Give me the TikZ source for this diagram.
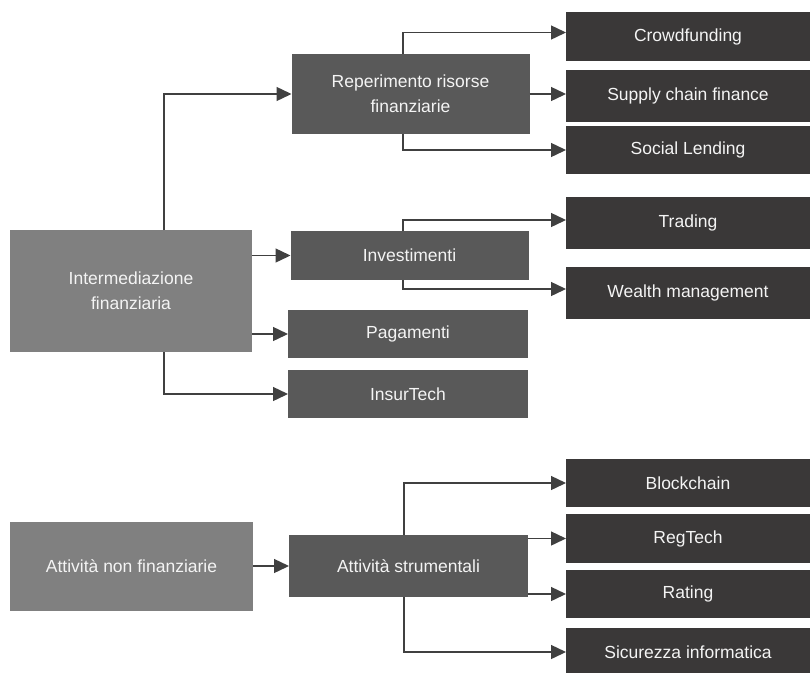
\documentclass[tikz,border=0pt]{standalone}
\usepackage{fontspec}
\setmainfont{Liberation Sans}
\usetikzlibrary{positioning,arrows.meta}
\definecolor{boxlight}{HTML}{808080}
\definecolor{boxmid}{HTML}{595959}
\definecolor{boxdark}{HTML}{3A3838}
\definecolor{linegray}{HTML}{404040}
\definecolor{textwhite}{HTML}{F4F4F4}

\begin{document}
\begin{tikzpicture}[x=1pt, y=-1pt,
    mainbox/.style={fill=boxlight, text=textwhite, align=center, inner sep=0pt, outer sep=0pt, font=\fontsize{17.5}{25}\selectfont},
    midbox/.style={mainbox, fill=boxmid, minimum width=238pt, minimum height=48pt},
    leafbox/.style={mainbox, fill=boxdark, minimum width=244pt, minimum height=49pt},
    arr/.style={draw=linegray, line width=1.4pt, -{Triangle[length=15pt,width=14pt]}}]
    \useasboundingbox (0,0) rectangle (810,672);

    % Intermediazione finanziaria
    \node[mainbox, minimum width=242pt, minimum height=122pt] (inter) at (131,291) {Intermediazione\\finanziaria};
    \node[midbox, minimum height=80pt] (reper) at (410.5,94) {Reperimento risorse\\finanziarie};
    \node[midbox, minimum height=49pt] (invest) at (409.5,255.5) {Investimenti};
    \node[midbox, minimum width=240pt] (pagam) at (408,334) {Pagamenti};
    \node[midbox, minimum width=240pt] (insur) at (408,394) {InsurTech};

    \node[leafbox] (crowd) at (688,36.5) {Crowdfunding};
    \node[leafbox, minimum height=52pt] (supply) at (688,95.5) {Supply chain finance};
    \node[leafbox, minimum height=48pt] (social) at (688,150) {Social Lending};
    \node[leafbox, minimum height=52pt] (trading) at (688,223) {Trading};
    \node[leafbox, minimum height=52pt] (wealth) at (688,293) {Wealth management};

    % Attivita non finanziarie
    \node[mainbox, minimum width=243pt, minimum height=89pt] (nonfin) at (131.5,566.5) {Attività non finanziarie};
    \node[midbox, minimum width=239pt, minimum height=62pt] (strum) at (408.5,566) {Attività strumentali};

    \node[leafbox, minimum height=48pt] (block) at (688,483) {Blockchain};
    \node[leafbox] (regtech) at (688,538.5) {RegTech};
    \node[leafbox, minimum height=48pt] (rating) at (688,594) {Rating};
    \node[leafbox, minimum height=48pt] (sicur) at (688,652) {Sicurezza informatica};

    % Arrows
    \draw[arr] ([xshift=33pt]inter.north) |- (reper.west);
    \draw[arr] (inter.east |- invest) -- (invest.west);
    \draw[arr] (inter.east |- pagam) -- (pagam.west);
    \draw[arr] ([xshift=33pt]inter.south) |- (insur.west);

    \draw[arr] ([xshift=-7.5pt]reper.north) |- ([yshift=4pt]crowd.west);
    \draw[arr] (reper.east) -- (reper.east -| supply.west);
    \draw[arr] ([xshift=-7.5pt]reper.south) |- (social.west);
    \draw[arr] ([xshift=-6.5pt]invest.north) |- ([yshift=3pt]trading.west);
    \draw[arr] ([xshift=-6.5pt]invest.south) |- ([yshift=4pt]wealth.west);

    \draw[arr] (nonfin.east |- strum) -- (strum.west);
    \draw[arr] ([xshift=-4.5pt]strum.north) |- (block.west);
    \draw[arr] (strum.east |- regtech) -- (regtech.west);
    \draw[arr] (strum.east |- rating) -- (rating.west);
    \draw[arr] ([xshift=-4.5pt]strum.south) |- (sicur.west);
\end{tikzpicture}
\end{document}
